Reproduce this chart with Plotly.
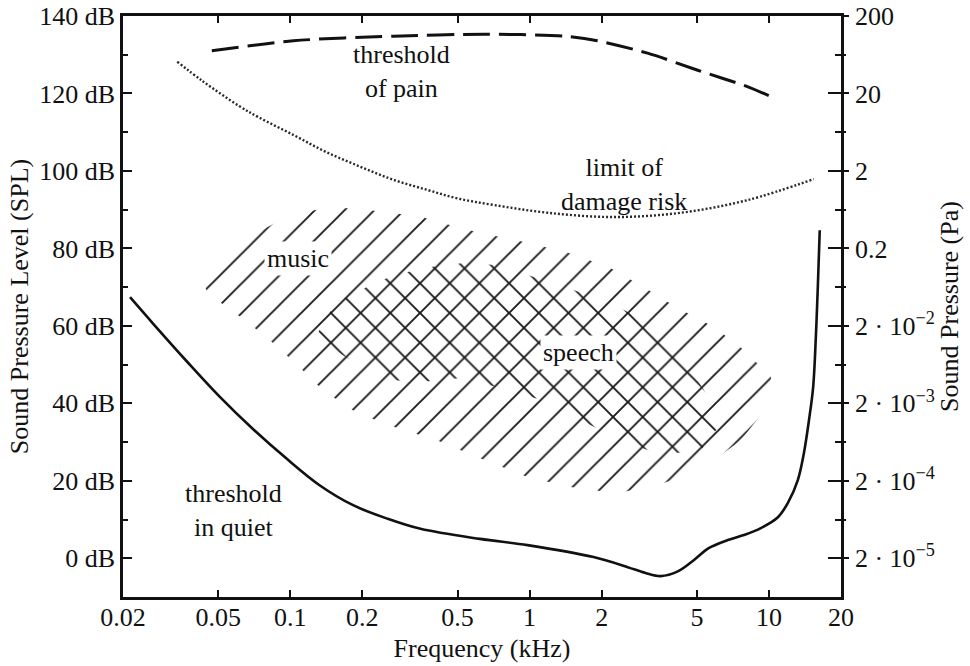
import numpy as np
import plotly.graph_objects as go

# ---------------- data (frequency in kHz, level in dB SPL) ----------------
quiet_f = [0.0214, 0.0267, 0.037, 0.0509, 0.070, 0.097, 0.133, 0.183, 0.255, 0.35, 0.62,
           0.98, 1.85, 2.57, 3.05, 3.53, 4.16, 4.85, 5.6, 6.73, 7.85, 9.25, 10.9, 12.0,
           13.2, 14.0, 14.7, 15.3, 15.7, 16.0, 16.3]
quiet_db = [67.4, 60.6, 50.8, 41.6, 33.3, 25.6, 18.8, 13.7, 10.2, 7.6, 5.0,
            3.4, 0.3, -2.3, -3.8, -4.6, -3.4, -0.5, 2.6, 4.7, 6.0, 7.8, 10.6, 14.3,
            20.2, 27.2, 35.7, 44.2, 57.1, 70.0, 84.7]

pain_f = [0.047, 0.103, 0.27, 0.65, 1.39, 1.92, 3.11, 5.04, 8.17, 10.7]
pain_db = [131.0, 133.6, 134.8, 135.3, 134.8, 133.6, 130.4, 126.0, 121.7, 118.6]

damage_f = [0.0337, 0.043, 0.061, 0.074, 0.103, 0.14, 0.196, 0.27, 0.374, 0.50, 0.71,
            1.19, 2.24, 4.28, 8.17, 15.4]
damage_db = [128.2, 123.2, 116.8, 113.8, 109.3, 105.0, 101.1, 97.7, 95.1, 92.9, 91.2,
             89.2, 88.1, 89.2, 92.5, 97.9]

music_f = [0.042, 0.051, 0.088, 0.127, 0.167, 0.212, 0.27, 0.34, 0.416, 0.624, 0.96, 1.46,
           2.14, 3.0, 4.16, 5.89, 7.86, 10.2, 10.0, 7.63, 5.19, 3.63, 2.33, 1.48, 0.98, 0.605,
           0.41, 0.28, 0.19, 0.137, 0.107, 0.080, 0.062, 0.045]
music_db = [73.9, 79.1, 86.8, 89.9, 90.4, 89.9, 89.1, 88.4, 86.8, 84.0, 81.6, 78.8,
            75.2, 70.0, 64.6, 59.7, 53.8, 46.8, 39.6, 30.5, 22.8, 19.4, 16.8, 18.4, 21.0, 26.1,
            30.5, 33.6, 37.5, 43.4, 49.9, 56.9, 62.3, 68.5]

speech_f = [0.127, 0.154, 0.238, 0.35, 0.53, 0.72, 0.99, 1.44, 2.04, 3.30, 4.71, 6.47,
            5.19, 3.53, 2.40, 1.63, 1.11, 0.755, 0.51, 0.35, 0.262, 0.173]
speech_db = [56.9, 65.9, 71.8, 74.9, 76.2, 75.7, 73.1, 69.8, 66.7, 60.2, 48.6, 35.7,
             27.9, 26.7, 30.5, 35.7, 40.9, 44.0, 46.5, 45.5, 46.0, 51.7]

x_ticks = [0.02, 0.05, 0.1, 0.2, 0.5, 1, 2, 5, 10, 20]
x_ticktext = ["0.02", "0.05", "0.1", "0.2", "0.5", "1", "2", "5", "10", "20"]
db_ticks = [0, 20, 40, 60, 80, 100, 120, 140]
db_ticktext = [f"{v} dB" for v in db_ticks]
db_minor = [10, 30, 50, 70, 90, 110, 130]
pa_ticktext = ["2 · 10<sup>−5</sup>", "2 · 10<sup>−4</sup>", "2 · 10<sup>−3</sup>",
               "2 · 10<sup>−2</sup>", "0.2", "2", "20", "200"]

labels = ["threshold<br>of pain", "limit of<br>damage risk", "music", "speech", "threshold<br>in quiet"]
label_f = [0.291, 2.49, 0.108, 1.60, 0.0577]
label_db = [125.8, 96.4, 77.5, 53.0, 12.4]
label_bg = [None, None, "white", "white", None]

# ---------------- figure ----------------
INK = "#111111"
FONT = "Liberation Serif"
FS = 26

fig = go.Figure()

fig.add_trace(go.Scatter(
    x=music_f, y=music_db, mode="lines", fill="toself",
    line=dict(width=0, color="rgba(0,0,0,0)"), fillcolor="rgba(0,0,0,0)",
    fillpattern=dict(shape="/", size=21, solidity=0.09, fgcolor="#1a1a1a",
                     bgcolor="rgba(0,0,0,0)", fillmode="replace"),
    hoverinfo="skip", showlegend=False))

fig.add_trace(go.Scatter(
    x=speech_f, y=speech_db, mode="lines", fill="toself",
    line=dict(width=0, color="rgba(0,0,0,0)"), fillcolor="rgba(0,0,0,0)",
    fillpattern=dict(shape="\\", size=21, solidity=0.09, fgcolor="#1a1a1a",
                     bgcolor="rgba(0,0,0,0)", fillmode="replace"),
    hoverinfo="skip", showlegend=False))

fig.add_trace(go.Scatter(
    x=quiet_f, y=quiet_db, mode="lines",
    line=dict(color=INK, width=2.6, shape="spline", smoothing=1.0),
    showlegend=False))
fig.add_trace(go.Scatter(
    x=pain_f, y=pain_db, mode="lines",
    line=dict(color=INK, width=3, dash="27px,9px", shape="spline", smoothing=0.8),
    showlegend=False))
fig.add_trace(go.Scatter(
    x=damage_f, y=damage_db, mode="lines",
    line=dict(color="#2a2a2a", width=2.4, dash="2px,2px", shape="spline", smoothing=1.0),
    showlegend=False))

# invisible traces so the right-hand axes render
for ax in ["y2", "y3", "y4"]:
    fig.add_trace(go.Scatter(x=[1], y=[50], yaxis=ax, mode="markers",
                             marker=dict(opacity=0), hoverinfo="skip", showlegend=False))

for txt, f, db, bg in zip(labels, label_f, label_db, label_bg):
    fig.add_annotation(
        x=np.log10(f), y=db, xref="x", yref="y", text=txt, showarrow=False,
        font=dict(family=FONT, size=FS, color="#111"),
        bgcolor=bg if bg else "rgba(0,0,0,0)", borderpad=2, align="center")

yr = [-10, 140]
fig.update_layout(
    width=970, height=666,
    margin=dict(l=123, r=129, t=16, b=69, autoexpand=False),
    paper_bgcolor="white", plot_bgcolor="white",
    font=dict(family=FONT, size=FS, color="#111"),
    xaxis=dict(
        type="log", range=[np.log10(0.02), np.log10(20)], automargin=False,
        tickvals=x_ticks, ticktext=x_ticktext,
        ticks="inside", ticklen=7, tickwidth=2, tickcolor=INK,
        showline=True, linewidth=2.5, linecolor=INK, mirror="ticks",
        showgrid=False, zeroline=False, ticklabelstandoff=-5,
        tickfont=dict(family=FONT, size=FS),
        title=dict(text="Frequency (kHz)", font=dict(family=FONT, size=FS), standoff=8),
    ),
    yaxis=dict(
        range=yr, tickvals=db_ticks, ticktext=db_ticktext, automargin=False,
        ticks="inside", ticklen=9, tickwidth=2, tickcolor=INK,
        minor=dict(tickvals=db_minor, ticks="inside", ticklen=5, tickwidth=2, tickcolor=INK),
        showline=True, linewidth=2.5, linecolor=INK,
        showgrid=False, zeroline=False,
        tickfont=dict(family=FONT, size=FS),
        title=dict(text="Sound Pressure Level (SPL)", font=dict(family=FONT, size=FS), standoff=4),
    ),
    yaxis2=dict(
        overlaying="y", side="right", anchor="x", automargin=False,
        range=yr, tickvals=db_ticks, ticktext=pa_ticktext,
        ticks="", ticklabelstandoff=6,
        showline=True, linewidth=2.5, linecolor=INK,
        showgrid=False, zeroline=False,
        tickfont=dict(family=FONT, size=FS),
        title=dict(text="Sound Pressure (Pa)", font=dict(family=FONT, size=FS), standoff=6),
    ),
    yaxis3=dict(
        overlaying="y", side="right", anchor="x", automargin=False,
        range=yr, tickvals=db_ticks, showticklabels=False,
        ticks="inside", ticklen=13, tickwidth=2, tickcolor=INK,
        minor=dict(tickvals=db_minor, ticks="inside", ticklen=6, tickwidth=2, tickcolor=INK),
        showline=False, showgrid=False, zeroline=False,
    ),
    yaxis4=dict(
        overlaying="y", side="right", anchor="x", automargin=False,
        range=yr, tickvals=db_ticks, showticklabels=False,
        ticks="outside", ticklen=7, tickwidth=2, tickcolor=INK,
        minor=dict(tickvals=db_minor, ticks="outside", ticklen=4, tickwidth=2, tickcolor=INK),
        showline=False, showgrid=False, zeroline=False,
    ),
)

fig.write_html("out.html")
